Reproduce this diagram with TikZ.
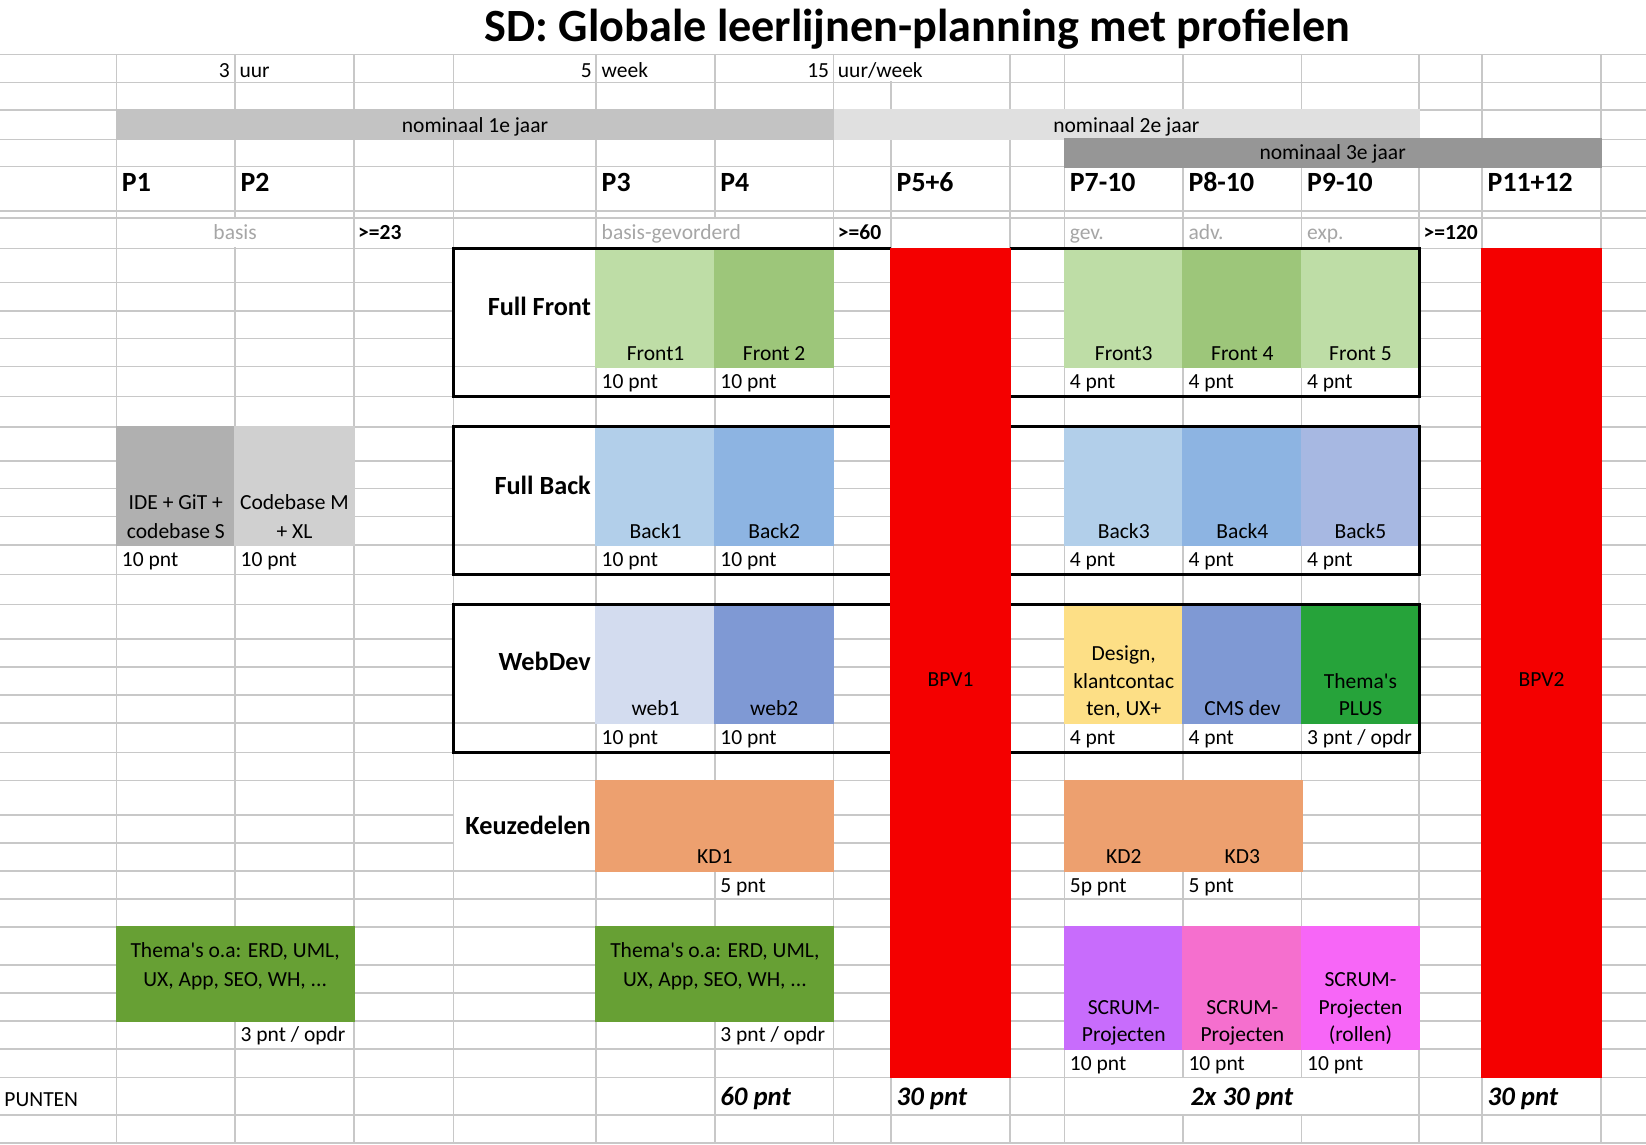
\documentclass[tikz,border=0pt]{standalone}
\usepackage{fontspec}
\setmainfont{Carlito}
\definecolor{gridc}{HTML}{C8C8C8}
\definecolor{bandA}{HTML}{C3C3C3}
\definecolor{bandB}{HTML}{E0E0E0}
\definecolor{bandC}{HTML}{969696}
\definecolor{greytxt}{HTML}{A6A6A6}
\definecolor{gLight}{HTML}{BEDDA6}
\definecolor{gDark}{HTML}{9DC67A}
\definecolor{bLight}{HTML}{B2CFEA}
\definecolor{bMid}{HTML}{8DB4E2}
\definecolor{bLav}{HTML}{A7B8E2}
\definecolor{wLight}{HTML}{D3DCEF}
\definecolor{wDark}{HTML}{7F99D4}
\definecolor{yDesign}{HTML}{FDDF86}
\definecolor{gPlus}{HTML}{26A33A}
\definecolor{kdOrange}{HTML}{EDA06F}
\definecolor{gThema}{HTML}{67A034}
\definecolor{sPurple}{HTML}{C86CFC}
\definecolor{sPink}{HTML}{F56FCE}
\definecolor{sMagenta}{HTML}{F766F7}
\definecolor{bpvRed}{HTML}{F40000}
\definecolor{ideGrey}{HTML}{B0B0B0}
\definecolor{cbGrey}{HTML}{D0D0D0}
\newcommand\apos{\XeTeXglyph\XeTeXcharglyph"0027\relax}
\tikzset{
  gridline/.style={draw=gridc, line width=1.5pt},
  boxline/.style={draw=black, line width=3.2pt, line join=miter},
  txt/.style={font=\fontsize{20.5}{24}\selectfont, inner sep=0pt},
  btxt/.style={font=\fontsize{20.5}{24}\selectfont\bfseries, inner sep=0pt},
  gtxt/.style={txt, text=greytxt},
  lbl/.style={font=\fontsize{25}{30}\selectfont\bfseries, inner sep=0pt, anchor=base east},
  per/.style={font=\fontsize{26.5}{30}\selectfont\bfseries, inner sep=0pt, anchor=base west},
  tot/.style={font=\fontsize{25.5}{30}\selectfont\bfseries\itshape, inner sep=0pt},
}
\begin{document}
\begin{tikzpicture}[x=1pt,y=-1pt]
\useasboundingbox (0,0) rectangle (1568,1090);
\fill[white] (0,0) rectangle (1568,1090);
% grid
\foreach \y in {51.8,78.4,104.8,132.7,158.8,201,207.4,236.6,269.3,296,322.6,349.3,377.9,406.5,438.9,465.5,492.2,519.2,547.1,575.7,608.7,635.4,662.1,688.8,717,743.7,776.1,802.8,829.8,856.4,882.8,919.3,945.7,972.6,999.3,1026.3,1062.2,1088.6}
  \draw[gridline] (0,\y) -- (1568,\y);
\foreach \x in {111,224,337,432,568,681,794,849,962,1014,1127,1240,1352,1412,1525}
  \draw[gridline] (\x,51.8) -- (\x,1088.6);
% merged / overflow cells (hide inner grid lines)
\fill[white] (794.9,52.7) rectangle (961.1,77.5);
\fill[white] (111.9,208.3) rectangle (336.1,235.7);
\fill[white] (568.9,208.3) rectangle (793.1,235.7);
\fill[white] (432.9,237.5) rectangle (567.1,348.4);
\fill[white] (432.9,407.4) rectangle (567.1,518.3);
\fill[white] (432.9,576.6) rectangle (567.1,687.9);
\fill[white] (432.9,744.6) rectangle (567.1,828.9);
\fill[white] (1014.9,1027.2) rectangle (1351.1,1061.3);
% year bands
\fill[bandA] (110.2,104) rectangle (794,133.5);
\fill[bandB] (794,104) rectangle (1352.8,133.5);
\fill[bandC] (1013.2,131.9) rectangle (1525.8,159.6);
% coloured cells
\foreach \xa/\ya/\xb/\yb/\c in {
  111/406.5/224/519.2/ideGrey, 224/406.5/337/519.2/cbGrey,
  568/236.6/681/349.3/gLight, 681/236.6/794/349.3/gDark,
  1014/236.6/1127/349.3/gLight, 1127/236.6/1240/349.3/gDark, 1240/236.6/1352/349.3/gLight,
  568/406.5/681/519.2/bLight, 681/406.5/794/519.2/bMid,
  1014/406.5/1127/519.2/bLight, 1127/406.5/1240/519.2/bMid, 1240/406.5/1352/519.2/bLav,
  568/575.7/681/688.8/wLight, 681/575.7/794/688.8/wDark,
  1014/575.7/1127/688.8/yDesign, 1127/575.7/1240/688.8/wDark, 1240/575.7/1352/688.8/gPlus,
  568/743.7/794/829.8/kdOrange, 1014/743.7/1240/829.8/kdOrange,
  111/882.8/337/972.6/gThema, 568/882.8/794/972.6/gThema,
  1014/882.8/1127/999.3/sPurple, 1127/882.8/1240/999.3/sPink, 1240/882.8/1352/999.3/sMagenta}
  \fill[\c] (\xa-0.8,\ya-0.8) rectangle (\xb+0.8,\yb+0.8);
% profile boxes
\foreach \ya/\yb in {236.6/377.9, 406.5/547.1, 575.7/717}{
  \draw[boxline] (849,\ya) -- (432,\ya) -- (432,\yb) -- (849,\yb);
  \draw[boxline] (962,\ya) -- (1352,\ya) -- (1352,\yb) -- (962,\yb);
}
% BPV blocks
\fill[bpvRed] (848.2,236.2) rectangle (962.8,1027.1);
\fill[bpvRed] (1411.2,236.2) rectangle (1525.8,1027.1);
% title
\node[font=\fontsize{44}{52}\selectfont\bfseries, inner sep=0pt, anchor=base] (title) at (874,40) {SD: Globale leerlijnen-planning met profielen};
% top rows
\node[txt, anchor=base east] (n3) at (219,73.5) {3};
\node[txt, anchor=base west] (nuur) at (228,73.5) {uur};
\node[txt, anchor=base east] (n5) at (564,73.5) {5};
\node[txt, anchor=base west] (nweek) at (573,73.5) {week};
\node[txt, anchor=base east] (n15) at (790,73.5) {15};
\node[txt, anchor=base west] (nuw) at (798,73.5) {uur/week};
\node[txt, anchor=base] (j1) at (452.5,126) {nominaal 1e jaar};
\node[txt, anchor=base] (j2) at (1073,126) {nominaal 2e jaar};
\node[txt, anchor=base] (j3) at (1269.5,152.4) {nominaal 3e jaar};
% periods
\node[per] (p1) at (116,182.6) {P1};
\node[per] (p2) at (229,182.6) {P2};
\node[per] (p3) at (573,182.6) {P3};
\node[per] (p4) at (686,182.6) {P4};
\node[per] (p56) at (854,182.6) {P5+6};
\node[per] (p710) at (1019,182.6) {P7-10};
\node[per] (p810) at (1132,182.6) {P8-10};
\node[per] (p910) at (1245,182.6) {P9-10};
\node[per] (p1112) at (1417,182.6) {P11+12};
% levels
\node[gtxt, anchor=base] (lvbasis) at (224,228) {basis};
\node[btxt, anchor=base west] (g23) at (341,228) {>=23};
\node[gtxt, anchor=base west] (lvbg) at (573,228) {basis-gevorderd};
\node[btxt, anchor=base west] (g60) at (798,228) {>=60};
\node[gtxt, anchor=base west] (lvgev) at (1019,228) {gev.};
\node[gtxt, anchor=base west] (lvadv) at (1132,228) {adv.};
\node[gtxt, anchor=base west] (lvexp) at (1245,228) {exp.};
\node[btxt, anchor=base west] (g120) at (1356,228) {>=120};
% Full Front
\node[lbl] (lff) at (563,301) {Full Front};
\node[txt, anchor=base] (f1) at (624.5,343) {Front1};
\node[txt, anchor=base] (f2) at (737.5,343) {Front 2};
\node[txt, anchor=base] (f3) at (1070.5,343) {Front3};
\node[txt, anchor=base] (f4) at (1183.5,343) {Front 4};
\node[txt, anchor=base] (f5) at (1296,343) {Front 5};
\node[txt, anchor=base west] (f1p) at (573,370) {10 pnt};
\node[txt, anchor=base west] (f2p) at (686,370) {10 pnt};
\node[txt, anchor=base west] (f3p) at (1019,370) {4 pnt};
\node[txt, anchor=base west] (f4p) at (1132,370) {4 pnt};
\node[txt, anchor=base west] (f5p) at (1245,370) {4 pnt};
% Full Back
\node[lbl] (lfb) at (563,470.6) {Full Back};
\node[txt, anchor=base] (ide1) at (167.5,485.5) {IDE + GiT +};
\node[txt, anchor=base] (ide2) at (167.5,512.5) {codebase S};
\node[txt, anchor=base] (cb1) at (280.5,485.5) {Codebase M};
\node[txt, anchor=base] (cb2) at (280.5,512.5) {+ XL};
\node[txt, anchor=base] (b1) at (624.5,512.5) {Back1};
\node[txt, anchor=base] (b2) at (737.5,512.5) {Back2};
\node[txt, anchor=base] (b3) at (1070.5,512.5) {Back3};
\node[txt, anchor=base] (b4) at (1183.5,512.5) {Back4};
\node[txt, anchor=base] (b5) at (1296,512.5) {Back5};
\node[txt, anchor=base west] (idep) at (116,539.5) {10 pnt};
\node[txt, anchor=base west] (cbp) at (229,539.5) {10 pnt};
\node[txt, anchor=base west] (b1p) at (573,539.5) {10 pnt};
\node[txt, anchor=base west] (b2p) at (686,539.5) {10 pnt};
\node[txt, anchor=base west] (b3p) at (1019,539.5) {4 pnt};
\node[txt, anchor=base west] (b4p) at (1132,539.5) {4 pnt};
\node[txt, anchor=base west] (b5p) at (1245,539.5) {4 pnt};
% WebDev
\node[lbl] (lwd) at (563,639) {WebDev};
\node[txt, anchor=base] (w1) at (624.5,682) {web1};
\node[txt, anchor=base] (w2) at (737.5,682) {web2};
\node[txt, anchor=base] (d1) at (1070.5,628.8) {Design,};
\node[txt, anchor=base] (d2) at (1070.5,655.8) {klantcontac};
\node[txt, anchor=base] (d3) at (1070.5,682) {ten, UX+};
\node[txt, anchor=base] (cms) at (1183.5,682) {CMS dev};
\node[txt, anchor=base] (tp1) at (1296,655.8) {Thema\apos s};
\node[txt, anchor=base] (tp2) at (1296,682) {PLUS};
\node[txt, anchor=base west] (w1p) at (573,709) {10 pnt};
\node[txt, anchor=base west] (w2p) at (686,709) {10 pnt};
\node[txt, anchor=base west] (dp) at (1019,709) {4 pnt};
\node[txt, anchor=base west] (cmsp) at (1132,709) {4 pnt};
\node[txt, anchor=base west] (tpp) at (1245,709) {3 pnt / opdr};
% Keuzedelen
\node[lbl] (lkd) at (563,794.5) {Keuzedelen};
\node[txt, anchor=base] (kd1) at (681,823) {KD1};
\node[txt, anchor=base] (kd2) at (1070.5,823) {KD2};
\node[txt, anchor=base] (kd3) at (1183.5,823) {KD3};
\node[txt, anchor=base west] (kd1p) at (686,850) {5 pnt};
\node[txt, anchor=base west] (kd2p) at (1019,850) {5p pnt};
\node[txt, anchor=base west] (kd3p) at (1132,850) {5 pnt};
% Thema's
\node[txt, anchor=base] (tha1) at (224,912.3) {Thema\apos s o.a: ERD, UML,};
\node[txt, anchor=base] (tha2) at (224,939.3) {UX, App, SEO, WH, ...};
\node[txt, anchor=base] (thb1) at (681,912.3) {Thema\apos s o.a: ERD, UML,};
\node[txt, anchor=base] (thb2) at (681,939.3) {UX, App, SEO, WH, ...};
\node[txt, anchor=base west] (thap) at (229,992.3) {3 pnt / opdr};
\node[txt, anchor=base west] (thbp) at (686,992.3) {3 pnt / opdr};
% SCRUM
\node[txt, anchor=base] (sa1) at (1070.5,966) {SCRUM-};
\node[txt, anchor=base] (sa2) at (1070.5,992.3) {Projecten};
\node[txt, anchor=base] (sb1) at (1183.5,966) {SCRUM-};
\node[txt, anchor=base] (sb2) at (1183.5,992.3) {Projecten};
\node[txt, anchor=base] (sc1) at (1296,939.3) {SCRUM-};
\node[txt, anchor=base] (sc2) at (1296,966) {Projecten};
\node[txt, anchor=base] (sc3) at (1296,992.3) {(rollen)};
\node[txt, anchor=base west] (sap) at (1019,1019.3) {10 pnt};
\node[txt, anchor=base west] (sbp) at (1132,1019.3) {10 pnt};
\node[txt, anchor=base west] (scp) at (1245,1019.3) {10 pnt};
% BPV
\node[txt, anchor=base] (bpv1) at (905.5,653.5) {BPV1};
\node[txt, anchor=base] (bpv2) at (1468.5,653.5) {BPV2};
% totals
\node[txt, anchor=base west] (punten) at (4,1053.6) {PUNTEN};
\node[tot, anchor=base west] (t60) at (686,1052.7) {60 pnt};
\node[tot, anchor=base west] (t30a) at (854,1052.7) {30 pnt};
\node[tot, anchor=base] (t2x30) at (1183,1052.7) {2x 30 pnt};
\node[tot, anchor=base west] (t30b) at (1417,1052.7) {30 pnt};
\end{tikzpicture}
\end{document}
